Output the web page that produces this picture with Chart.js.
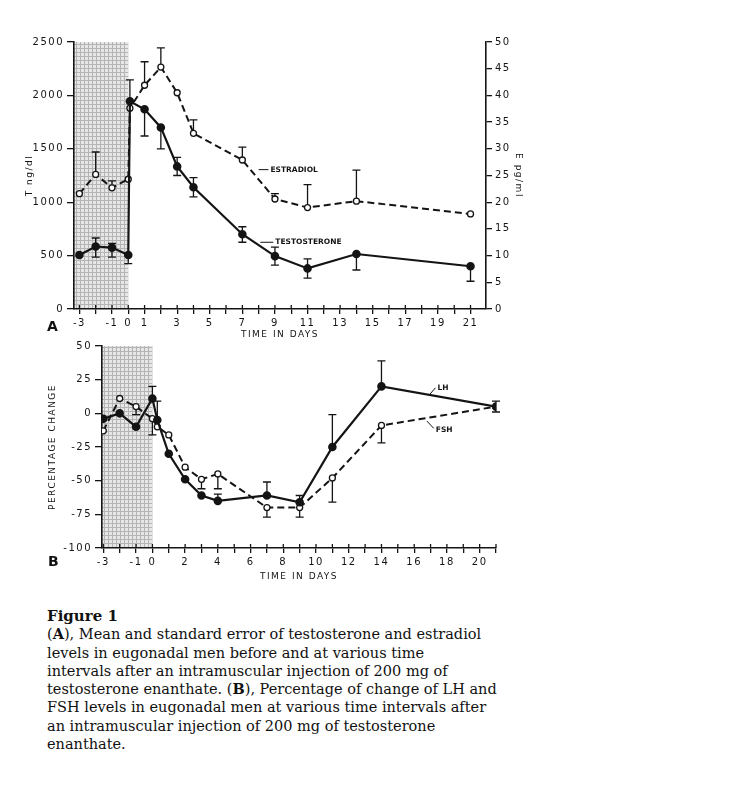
<!DOCTYPE html>
<html>
<head>
<meta charset="utf-8">
<script src="https://cdn.jsdelivr.net/npm/chart.js@4.4.1/dist/chart.umd.min.js"></script>
<style>
  body { margin: 0; background: #fff; width: 754px; height: 800px; position: relative; overflow: hidden; }
  canvas { position: absolute; left: 0; }
  #top-chart { top: 0; }
  #bottom-chart { top: 335px; }
  .panel { position: absolute; font-family: "DejaVu Sans", sans-serif; font-weight: bold; font-size: 14px; color: #111; }
  #caption { position: absolute; left: 47px; top: 607px; font-family: "DejaVu Serif", serif; font-size: 14.5px; line-height: 18.3px; color: #111; white-space: nowrap; }
  #caption .fig { font-size: 15px; }
</style>
</head>
<body>
<canvas id="top-chart" width="560" height="345"></canvas>
<canvas id="bottom-chart" width="560" height="255"></canvas>
<div class="panel" style="left:47px; top:318px;">A</div>
<div class="panel" style="left:48px; top:553px;">B</div>
<div id="caption"><b class="fig">Figure 1</b><br>(<b>A</b>), Mean and standard error of testosterone and estradiol<br>levels in eugonadal men before and at various time<br>intervals after an intramuscular injection of 200 mg of<br>testosterone enanthate. (<b>B</b>), Percentage of change of LH and<br>FSH levels in eugonadal men at various time intervals after<br>an intramuscular injection of 200 mg of testosterone<br>enanthate.</div>
<script>
// PANEL A DATA (days, testosterone ng/dl, estradiol pg/ml)
const days = [-3, -2, -1, 0, 0.1, 1, 2, 3, 4, 7, 9, 11, 14, 21];
const testosterone = [505, 585, 575, 505, 1945, 1870, 1700, 1335, 1140, 700, 495, 380, 515, 400];
const testosteroneErrUp = [0, 80, 40, 0, 200, 0, 0, 85, 90, 70, 85, 90, 0, 0];
const testosteroneErrDown = [0, 100, 90, 80, 0, 250, 200, 85, 90, 75, 85, 90, 150, 140];
const estradiol = [21.6, 25.2, 22.7, 24.3, 37.6, 41.9, 45.3, 40.5, 32.9, 27.9, 20.6, 19.0, 20.2, 17.8];
const estradiolErrUp = [0, 4.2, 1.3, 0, 0, 4.4, 3.6, 0, 2.5, 2.4, 1.0, 4.3, 5.8, 0];

// PANEL B DATA (days, percentage change)
const pctDays = [-3, -2, -1, 0, 0.3, 1, 2, 3, 4, 7, 9, 11, 14, 21];
const lh = [-4, 0, -10, 11, -5, -30, -49, -61, -65, -61, -66, -25, 20, 5];
const lhErrUp = [0, 0, 0, 9, 14, 0, 0, 0, 5, 10, 5, 24, 19, 4];
const lhErrDown = [0, 0, 0, 0, 0, 0, 0, 0, 0, 0, 0, 0, 0, 4];
const fsh = [-13, 11, 5, -4, -10, -16, -40, -49, -45, -70, -70, -48, -9, 5];
const fshErrDown = [0, 0, 6, 12, 0, 0, 0, 7, 11, 7, 7, 18, 13, 0];

// TICKS
const topXTicks = [-3, -2, -1, 0, 1, 2, 3, 4, 5, 6, 7, 8, 9, 10, 11, 12, 13, 14, 15, 16, 17, 18, 19, 20, 21];
const topXLabels = [-3, -1, 0, 1, 3, 5, 7, 9, 11, 13, 15, 17, 19, 21];
const bottomXTicks = [-3, -2, -1, 0, 1, 2, 3, 4, 5, 6, 7, 8, 9, 10, 11, 12, 13, 14, 15, 16, 17, 18, 19, 20, 21];
const bottomXLabels = [-3, -1, 0, 2, 4, 6, 8, 10, 12, 14, 16, 18, 20];

// pre-injection period (shaded)
const baselineEnd = 0;

const INK = "#141414";
const tickFont = { family: "DejaVu Sans", size: 10 };
const titleFont = { family: "DejaVu Sans", size: 9 };

// grey screen-tone for the baseline period
const tone = document.createElement("canvas");
tone.width = 4; tone.height = 4;
const tctx = tone.getContext("2d");
tctx.fillStyle = "#e6e6e6";
tctx.fillRect(0, 0, 4, 4);
tctx.fillStyle = "#b4b4b4";
tctx.fillRect(0, 0, 4, 1);
tctx.fillRect(0, 0, 1, 4);

const shadePlugin = {
  id: "shade",
  beforeDraw(chart) {
    const ctx = chart.ctx;
    ctx.letterSpacing = "1.5px";
    const xs = chart.scales.x, ys = chart.scales.y;
    const x0 = xs.getPixelForValue(xs.min), x1 = xs.getPixelForValue(baselineEnd);
    const y0 = ys.getPixelForValue(ys.max), y1 = ys.getPixelForValue(ys.min);
    ctx.save();
    ctx.fillStyle = ctx.createPattern(tone, "repeat");
    ctx.fillRect(x0, y0, x1 - x0, y1 - y0);
    ctx.restore();
  }
};

const errorBarPlugin = {
  id: "errorBars",
  beforeDatasetsDraw(chart) {
    const ctx = chart.ctx;
    const xs = chart.scales.x;
    // inward half of the x tick marks
    ctx.save();
    ctx.strokeStyle = INK;
    ctx.lineWidth = 1.3;
    xs.ticks.forEach(t => {
      const px = xs.getPixelForValue(t.value);
      ctx.beginPath();
      ctx.moveTo(px, xs.top);
      ctx.lineTo(px, xs.top - 4);
      ctx.stroke();
    });
    chart.data.datasets.forEach(ds => {
      const ys = chart.scales[ds.yAxisID || "y"];
      ds.data.forEach((p, i) => {
        const up = ds.errUp ? ds.errUp[i] : 0;
        const down = ds.errDown ? ds.errDown[i] : 0;
        const px = xs.getPixelForValue(p.x);
        const py = ys.getPixelForValue(p.y);
        [p.y + up, p.y - down].forEach((end, k) => {
          if ((k === 0 ? up : down) === 0) return;
          const ey = ys.getPixelForValue(end);
          ctx.beginPath();
          ctx.moveTo(px, py);
          ctx.lineTo(px, ey);
          ctx.moveTo(px - 4, ey);
          ctx.lineTo(px + 4, ey);
          ctx.stroke();
        });
      });
    });
    ctx.restore();
  }
};

const notePlugin = {
  id: "notes",
  afterDatasetsDraw(chart, args, opts) {
    const ctx = chart.ctx;
    const xs = chart.scales.x;
    ctx.save();
    ctx.letterSpacing = "0px";
    ctx.strokeStyle = INK;
    ctx.fillStyle = INK;
    ctx.lineWidth = 1;
    ctx.font = "bold 7.5px 'DejaVu Sans'";
    ctx.textBaseline = "middle";
    (opts.items || []).forEach(n => {
      const ys = chart.scales[n.axis];
      const x0 = xs.getPixelForValue(n.x0), y0 = ys.getPixelForValue(n.y0);
      const x1 = xs.getPixelForValue(n.x1), y1 = ys.getPixelForValue(n.y1);
      ctx.beginPath();
      ctx.moveTo(x0, y0);
      ctx.lineTo(x1, y1);
      ctx.stroke();
      ctx.fillText(n.text, x1 + 2, y1 + (n.dy || 0));
    });
    ctx.restore();
  }
};

function xScale(min, max, ticks, labels, height, titlePad) {
  return {
    type: "linear", min: min, max: max,
    afterBuildTicks: s => { s.ticks = ticks.map(v => ({ value: v })); },
    afterFit: s => { s.height = height; },
    grid: { drawOnChartArea: false, tickLength: 5, color: INK, lineWidth: 1.3 },
    border: { color: INK, width: 1.6 },
    ticks: {
      autoSkip: false, maxRotation: 0, padding: 3, color: INK, font: tickFont,
      callback: v => labels.includes(v) ? String(v) : ""
    },
    title: { display: true, text: "TIME IN DAYS", color: INK, font: titleFont, padding: { top: 0, bottom: titlePad } }
  };
}

function yScale(position, min, max, step, width, tickLen, titleText, titlePad) {
  return {
    type: "linear", position: position, min: min, max: max,
    afterFit: s => { s.width = width; },
    grid: { drawOnChartArea: false, tickLength: tickLen, color: INK, lineWidth: 1.3 },
    border: { color: INK, width: 1.6 },
    ticks: { stepSize: step, padding: 3, color: INK, font: tickFont, callback: v => String(v) },
    title: { display: true, text: titleText, color: INK, font: titleFont, padding: { top: titlePad, bottom: 0 } }
  };
}

const topChart = new Chart(document.getElementById("top-chart").getContext("2d"), {
  type: "line",
  data: {
    datasets: [{
      label: "Testosterone",
      data: days.map((d, i) => ({ x: d, y: testosterone[i] })),
      yAxisID: "y",
      borderColor: INK, borderWidth: 2.2,
      pointRadius: 3.2, pointBackgroundColor: INK, pointBorderColor: INK,
      errUp: testosteroneErrUp, errDown: testosteroneErrDown
    }, {
      label: "Estradiol",
      data: days.map((d, i) => ({ x: d, y: estradiol[i] })),
      yAxisID: "y2",
      borderColor: INK, borderWidth: 2, borderDash: [7, 4],
      pointRadius: 3, pointBackgroundColor: "#fff", pointBorderColor: INK, pointBorderWidth: 1.3,
      errUp: estradiolErrUp
    }]
  },
  options: {
    responsive: false,
    animation: false,
    layout: { padding: { top: 42, left: 0, right: 0, bottom: 0 } },
    plugins: {
      legend: { display: false },
      tooltip: { enabled: false },
      notes: {
        items: [
          { text: "ESTRADIOL", axis: "y2", x0: 8.0, y0: 26.1, x1: 8.6, y1: 26.1 },
          { text: "TESTOSTERONE", axis: "y", x0: 8.1, y0: 625, x1: 8.9, y1: 625 }
        ]
      }
    },
    scales: {
      x: xScale(-3.33, 21.95, topXTicks, topXLabels, 36, 4.6),
      y: yScale("left", 0, 2500, 500, 74, 7, "T ng/dl", 24),
      y2: yScale("right", 0, 50, 5, 74, 6, "E pg/ml", 36.6)
    }
  },
  plugins: [shadePlugin, errorBarPlugin, notePlugin]
});

const bottomChart = new Chart(document.getElementById("bottom-chart").getContext("2d"), {
  type: "line",
  data: {
    datasets: [{
      label: "LH",
      data: pctDays.map((d, i) => ({ x: d, y: lh[i] })),
      borderColor: INK, borderWidth: 2.2,
      pointRadius: 3.2, pointBackgroundColor: INK, pointBorderColor: INK,
      errUp: lhErrUp, errDown: lhErrDown
    }, {
      label: "FSH",
      data: pctDays.map((d, i) => ({ x: d, y: fsh[i] })),
      borderColor: INK, borderWidth: 2, borderDash: [7, 4],
      pointRadius: 3, pointBackgroundColor: "#fff", pointBorderColor: INK, pointBorderWidth: 1.3,
      errDown: fshErrDown
    }]
  },
  options: {
    responsive: false,
    animation: false,
    layout: { padding: { top: 11, left: 0, right: 64, bottom: 0 } },
    plugins: {
      legend: { display: false },
      tooltip: { enabled: false },
      notes: {
        items: [
          { text: "LH", axis: "y", x0: 16.97, y0: 14.3, x1: 17.3, y1: 19 },
          { text: "FSH", axis: "y", x0: 16.77, y0: -5.7, x1: 17.2, y1: -11.2, dy: 2 }
        ]
      }
    },
    scales: {
      x: xScale(-3.08, 21, bottomXTicks, bottomXLabels, 42, 7.6),
      y: yScale("left", -100, 50, 25, 102, 7, "PERCENTAGE CHANGE", 47.6)
    }
  },
  plugins: [shadePlugin, errorBarPlugin, notePlugin]
});
</script>
</body>
</html>
